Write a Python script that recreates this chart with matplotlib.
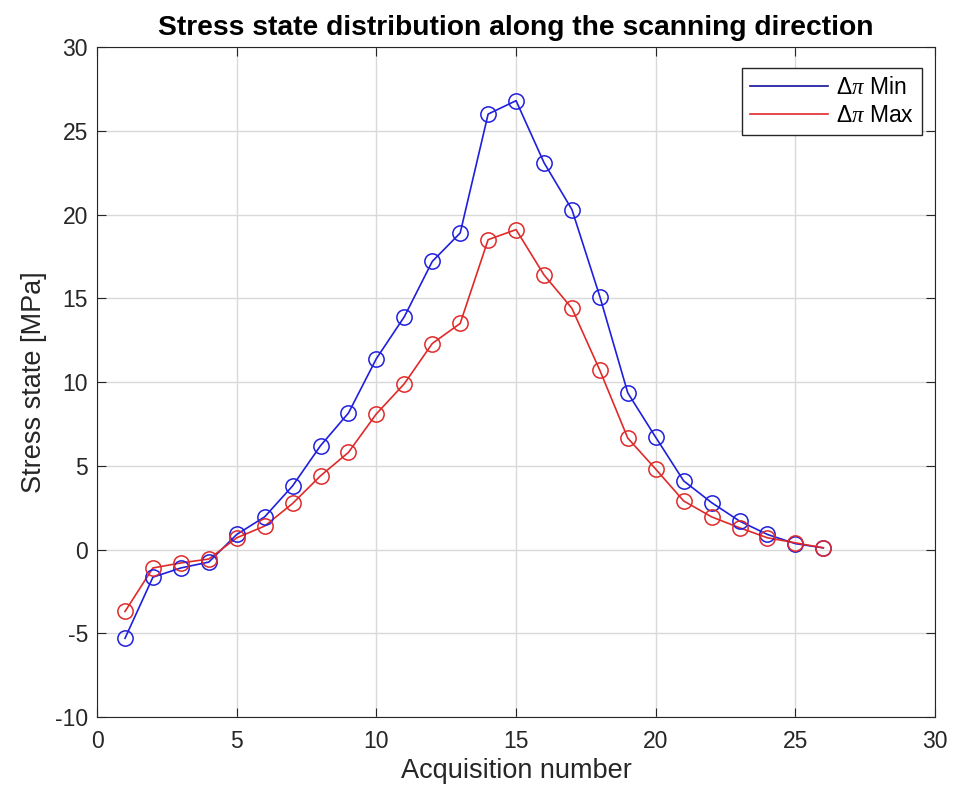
import numpy as np
import matplotlib.pyplot as plt
from matplotlib.lines import Line2D

plt.rcParams['font.family'] = ['Liberation Sans', 'DejaVu Sans']
plt.rcParams['mathtext.fontset'] = 'custom'
plt.rcParams['mathtext.rm'] = 'Liberation Sans'
plt.rcParams['mathtext.it'] = 'Liberation Serif:italic'
plt.rcParams['axes.unicode_minus'] = False

# acquisition index and stress values
acq = np.arange(1, 27)
delta_min = [-5.3, -1.65, -1.1, -0.75, 0.9, 1.95, 3.8, 6.2, 8.15, 11.4,
             13.9, 17.2, 18.9, 26.0, 26.8, 23.1, 20.3, 15.1, 9.35, 6.7,
             4.1, 2.8, 1.7, 0.9, 0.35, 0.1]
delta_max = [-3.7, -1.1, -0.8, -0.57, 0.7, 1.4, 2.75, 4.4, 5.8, 8.1,
             9.9, 12.3, 13.5, 18.5, 19.1, 16.4, 14.4, 10.7, 6.65, 4.8,
             2.9, 1.95, 1.3, 0.7, 0.4, 0.1]

fig = plt.figure(figsize=(9.61, 7.98), dpi=100)
ax = fig.add_axes([0.101, 0.1015, 0.872, 0.8395])

blue = '#1f1fdd'
red = '#e02a2a'
ax.plot(acq, delta_min, color=blue, lw=1.2)
ax.plot(acq, delta_max, color=red, lw=1.2)
ax.plot(acq, delta_min, 'o', mfc='none', mec=blue, ms=11, mew=1.1)
ax.plot(acq, delta_max, 'o', mfc='none', mec=red, ms=11, mew=1.1)

ax.set_xlim(0, 30)
ax.set_ylim(-10, 30)
ax.set_xticks(range(0, 31, 5))
ax.set_yticks(range(-10, 31, 5))
ax.grid(True, color='#d9d9d9', lw=1)
ax.set_axisbelow(True)
ax.tick_params(direction='in', top=True, right=True, labelsize=16.5, length=6.5,
               color='#262626', labelcolor='#262626')
ax.tick_params(axis='x', pad=9)
ax.tick_params(axis='y', pad=6.5)
for s in ax.spines.values():
    s.set_color('#262626')

ax.set_xlabel('Acquisition number', fontsize=19.5, color='#262626', labelpad=4)
ax.set_ylabel('Stress state [MPa]', fontsize=19.5, color='#262626', labelpad=6)
ax.set_title('Stress state distribution along the scanning direction',
             fontsize=20.3, fontweight='bold', pad=9)

handles = [Line2D([], [], color='#1010a0', lw=1.2), Line2D([], [], color=red, lw=1.2)]
leg = ax.legend(handles, [r'$\Delta\pi$ Min', r'$\Delta\pi$ Max'], loc='upper right',
                bbox_to_anchor=(0.9845, 0.9687), borderaxespad=0,
                fontsize=16.5, fancybox=False, edgecolor='#262626', framealpha=1,
                handlelength=3.4, handletextpad=0.35, borderpad=0.35, labelspacing=0.22)
leg.get_frame().set_linewidth(1.0)

fig.savefig('out.png', dpi=100)
